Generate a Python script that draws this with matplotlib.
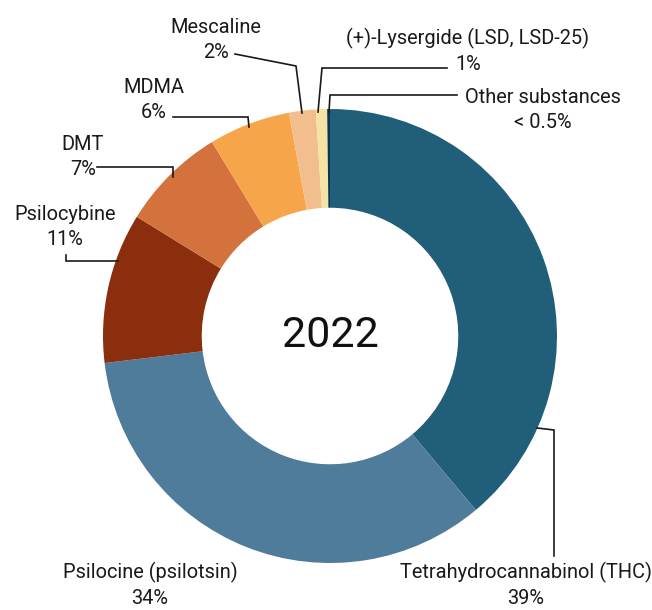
import matplotlib
matplotlib.use('Agg')
import matplotlib.pyplot as plt

# data
labels = ['Tetrahydrocannabinol (THC)', 'Psilocine (psilotsin)', 'Psilocybine', 'DMT',
          'MDMA', 'Mescaline', '(+)-Lysergide (LSD, LSD-25)', 'Other substances']
shares = [38.9, 34.2, 10.7, 7.5, 5.8, 1.9, 0.8, 0.2]
pct_text = ['39%', '34%', '11%', '7%', '6%', '2%', '1%', '< 0.5%']
colors = ['#215e7a', '#4f7c9b', '#8a2e0d', '#d3723d', '#f7a54b', '#f2be8e', '#f4e3a2', '#0d3550']
year = '2022'

W, H = 652, 610
CX, CY, R = 330, 336, 227  # pie centre / radius in pixels


def P(px, py):
    # pixel (from top-left) -> data coords
    return (px - CX) / R, (CY - py) / R


fig = plt.figure(figsize=(W / 100, H / 100), dpi=100)
ax = fig.add_axes([0, 0, 1, 1])

ax.pie(shares, colors=colors, startangle=90, counterclock=False, radius=1,
       wedgeprops=dict(width=0.435, linewidth=0))

# pie() resets the limits, so set them afterwards
ax.set_xlim(-CX / R, (W - CX) / R)
ax.set_ylim((CY - H) / R, CY / R)
ax.set_aspect('equal')
ax.axis('off')

ax.text(0, 0, year, ha='center', va='center', fontsize=31, family='Roboto', color='#111111')

# label positions and leader lines (pixels)
label_pos = [(526, 585), (150, 585), (65, 227), (83, 157), (154, 100), (216, 40), (468, 51), (543, 110)]
leaders = [
    [(537, 428), (554, 430), (554, 556)],
    None,
    [(66, 255), (66, 261), (118, 261)],
    [(97, 167), (173, 167), (173, 177)],
    [(173, 117), (248, 117), (249, 127)],
    [(235, 54), (296, 66), (302, 113)],
    [(447, 68), (322, 68), (318, 112)],
    [(457, 95), (330, 95), (329, 112)],
]

for name, pct, pos, pts in zip(labels, pct_text, label_pos, leaders):
    x, y = P(*pos)
    ax.text(x, y, name + '\n' + pct, ha='center', va='center', fontsize=14.4,
            family='Roboto', color='#1a1a1a', linespacing=1.35)
    if pts:
        xs, ys = zip(*[P(*p) for p in pts])
        ax.plot(xs, ys, color='#1a1a1a', lw=1.2, solid_joinstyle='miter')

fig.savefig('out.png', dpi=100)
